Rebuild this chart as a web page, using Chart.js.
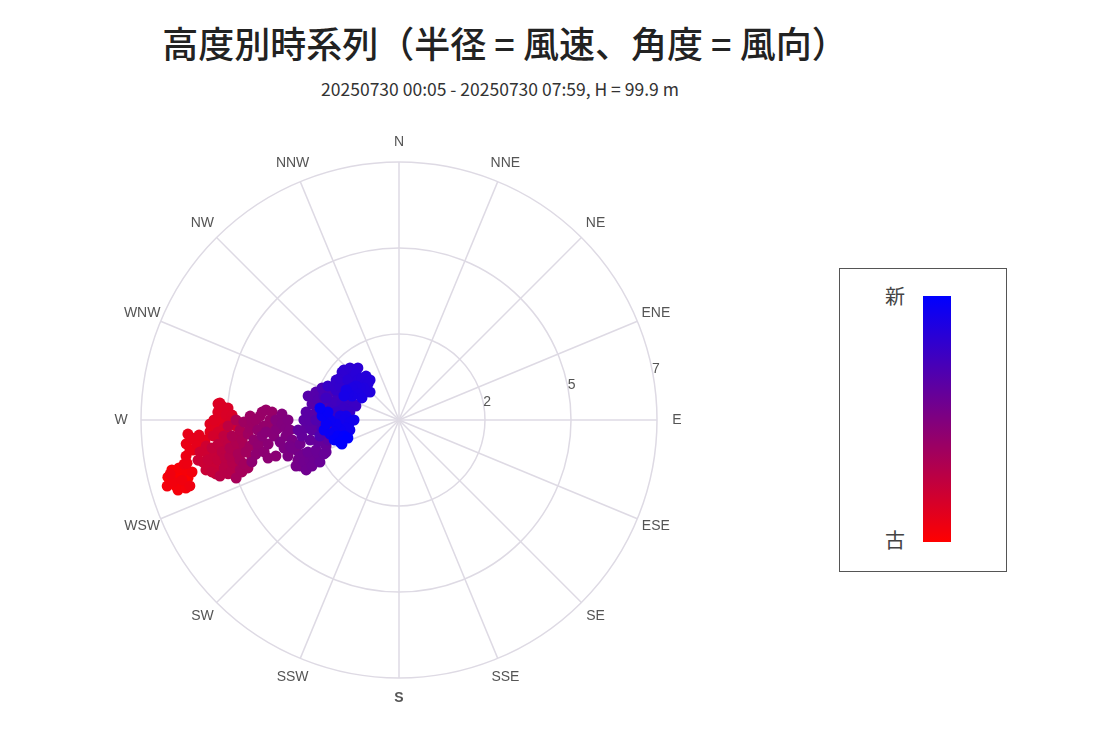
<!DOCTYPE html>
<html lang="ja">
<head>
<meta charset="utf-8">
<title>高度別時系列</title>
<script src="https://cdn.jsdelivr.net/npm/chart.js@4.4.1/dist/chart.umd.min.js"></script>
<style>
  html, body { margin: 0; padding: 0; background: #fff; }
  #page { position: relative; width: 1112px; height: 746px; overflow: hidden;
          font-family: "Noto Sans CJK JP", "Noto Sans", sans-serif; color: #222; }
  #title { position: absolute; left: 0; top: 24px; width: 1010px; text-align: center;
           font-size: 36px; line-height: 36px; font-weight: 500; }
  #subtitle { position: absolute; left: 0; top: 80px; width: 1000px; text-align: center;
              font-size: 17.5px; line-height: 17px; color: #333; }
  #polar { position: absolute; left: 99px; top: 120px; }
  #legendBox { position: absolute; left: 839px; top: 268px; width: 166px; height: 302px;
               border: 1px solid #555; }
  #legendBar { position: absolute; left: 83px; top: 27px; width: 28px; height: 246px;
               background: linear-gradient(to bottom, #0000ff, #ff0000); }
  .legendText { position: absolute; left: 43px; width: 24px; text-align: center;
                font-size: 20px; line-height: 20px; color: #444; }
</style>
</head>
<body>
<div id="page">
  <div id="title">高度別時系列（半径 = 風速、角度 = 風向）</div>
  <div id="subtitle">20250730 00:05 - 20250730 07:59, H = 99.9 m</div>
  <canvas id="polar" width="600" height="600"></canvas>
  <div id="legendBox">
    <div class="legendText" style="top:17px">新</div>
    <div id="legendBar"></div>
    <div class="legendText" style="top:261px">古</div>
  </div>
</div>
<script>
// 16方位
const compassLabels = ['N', 'NNE', 'NE', 'ENE', 'E', 'ESE', 'SE', 'SSE',
                       'S', 'SSW', 'SW', 'WSW', 'W', 'WNW', 'NW', 'NNW'];
const ringValues = [2.333, 4.667, 7];
const ringLabels = ['2', '5', '7'];

// 風速 (m/s)  古 -> 新
const windSpeed = [
  6.44, 6.31, 6.11, 5.94, 6.09, 6.29, 6.46, 6.31, 6.11, 5.94, 6.29, 6.07, 5.79, 6.54, 6.36, 6.11, 6.38, 5.95,
  5.95, 5.87, 5.86, 5.73, 5.81,
  5.65, 5.54, 5.74, 5.64, 5.52, 5.44, 5.29, 5.14, 5.13, 4.97, 4.83, 5.02, 4.92, 4.93, 4.88, 4.82, 4.65, 4.70,
  4.53, 4.59, 4.75, 4.92, 5.06, 4.89, 4.66, 4.43, 5.05, 5.28, 5.47, 5.27, 5.56, 5.44, 5.24,
  5.41, 5.16, 5.29, 5.11, 5.27, 5.18, 5.03, 5.13, 4.91, 4.95, 4.77, 4.73, 4.64, 4.68, 4.88, 4.83, 4.84, 4.92,
  5.09, 4.86, 4.73, 4.62, 4.67, 4.69, 4.55, 4.65, 4.43, 4.46, 4.39, 4.42, 4.55, 4.32, 4.29, 4.26, 4.46, 4.45,
  4.52, 4.69, 4.49, 4.30, 4.37, 4.12, 4.24, 4.10, 4.11, 4.21,
  4.05, 4.04, 3.99, 3.88, 3.77, 3.72, 3.62, 3.45, 3.50, 3.50, 3.67, 3.84, 3.97, 3.81, 3.89, 3.99, 4.15, 3.76,
  3.70, 3.48, 3.61, 3.74, 3.62, 3.42, 3.35, 3.29, 3.34, 3.18, 3.18, 3.07, 3.01, 2.97, 3.10, 3.28, 3.21, 3.17,
  2.95, 2.91, 2.95,
  3.04, 3.00, 3.06, 2.96, 2.86, 2.76, 2.74, 2.82, 2.86, 2.65, 2.67, 2.53, 2.62, 2.38, 2.39, 2.43, 2.23, 2.16,
  2.10, 2.28, 2.47, 2.67, 2.75, 2.53, 2.27, 2.12, 2.00,
  2.38, 2.42, 2.58, 2.41, 2.53, 2.31, 2.40, 2.38, 2.55, 2.38, 2.27, 2.26, 2.16, 2.20, 2.25, 2.10, 2.19, 1.88,
  1.98, 2.02, 2.14, 2.26, 2.02, 1.88, 1.83, 1.74, 1.65, 1.74, 1.73,
  1.76, 1.82, 1.89, 2.07, 1.61, 1.47, 1.30, 1.23, 1.53, 1.57, 1.35, 1.72,
  2.14, 1.89, 1.99, 2.02, 1.80, 1.85, 1.96, 2.02, 1.90, 2.02, 1.94, 1.83, 1.80, 1.71, 1.76, 1.71, 1.55, 1.52,
  1.49, 1.34, 1.36, 1.29, 1.09, 1.17, 1.29, 1.37, 1.49, 1.54, 1.32, 1.17, 1.43, 1.55, 1.65, 1.63,
  1.60, 1.44, 1.49, 1.22, 1.33, 1.36, 1.45, 1.67, 1.62, 1.71, 1.87, 1.79, 1.91, 2.05, 1.98, 2.09, 1.94, 2.17,
  1.84, 1.71, 1.68, 1.55, 1.71, 1.47
];

// 風向 (deg)
const windDir = [
  254.8, 253.5, 253.5, 254.6, 256.1, 256.0, 256.1, 257.6, 257.7, 256.8, 252.4, 252.3, 255.9, 254.1, 254.7, 254.5, 256.7, 252.5,
  258.4, 258.5, 260.4, 261.8, 263.6,
  261.7, 263.8, 266.2, 265.0, 262.9, 265.7, 264.1, 266.4, 268.8, 267.8, 270.0, 270.0, 272.5, 275.1, 275.4, 274.5, 274.0, 271.7,
  271.7, 269.3, 267.4, 266.2, 265.1, 263.6, 265.3, 267.9, 261.3, 262.3, 260.9, 259.6, 258.7, 257.9, 256.5,
  255.5, 255.4, 258.2, 259.0, 254.5, 253.6, 257.5, 261.5, 261.7, 262.4, 264.8, 263.4, 268.0, 262.0, 259.8, 257.7, 255.7, 254.7,
  252.6, 252.5, 253.3, 254.3, 255.9, 258.0, 259.7, 260.6, 260.1, 262.3, 264.3, 270.0, 264.5, 266.4, 262.7, 260.5, 258.1, 255.9,
  252.5, 250.4, 251.7, 252.4, 254.2, 255.5, 258.2, 260.1, 264.7, 269.3,
  266.9, 271.5, 269.2, 270.0, 271.6, 273.3, 274.3, 273.6, 270.0, 267.3, 267.5, 265.9, 262.1, 261.8, 259.6, 256.6, 254.1, 256.7,
  253.8, 253.7, 259.6, 263.3, 264.8, 262.7, 265.4, 266.2, 270.0, 272.9, 268.0, 266.0, 270.0, 264.8, 261.9, 259.5, 256.3, 252.0,
  259.4, 253.8, 248.4,
  256.6, 255.3, 245.9, 245.1, 250.0, 256.4, 250.3, 246.1, 241.7, 245.8, 242.1, 245.9, 250.6, 247.2, 250.1, 242.0, 245.6, 246.3,
  250.4, 254.8, 257.3, 260.6, 264.3, 265.1, 263.1, 259.7, 254.3,
  263.4, 266.1, 270.0, 270.0, 274.9, 274.0, 280.4, 284.5, 284.8, 288.6, 289.5, 283.9, 277.2, 270.0, 270.0, 264.1, 258.6, 265.0,
  271.6, 280.9, 287.7, 292.6, 292.1, 285.0, 275.1, 259.2, 270.0, 280.8, 292.1,
  289.8, 283.8, 278.2, 286.8, 285.7, 289.4, 289.6, 288.0, 282.3, 280.0, 279.3, 277.2,
  295.6, 295.5, 297.6, 302.4, 300.8, 300.0, 305.4, 310.1, 311.0, 312.3, 316.7, 318.0, 321.7, 311.8, 308.1, 316.9, 314.3, 318.6,
  323.1, 324.1, 315.8, 319.3, 314.0, 310.3, 312.4, 309.4, 308.3, 304.2, 302.4, 300.7, 297.1, 297.0, 299.5, 293.6,
  273.9, 274.3, 270.0, 270.0, 267.7, 258.5, 261.4, 262.5, 260.4, 266.4, 270.0, 259.5, 258.5, 262.4, 266.9, 273.0, 276.4, 278.6,
  252.9, 255.3, 247.2, 253.8, 249.5, 250.6
];

const gridColor = '#dedae4';

// old = red, new = blue
const pointColors = windSpeed.map((_, i) => {
  const t = i / (windSpeed.length - 1);
  return 'rgb(' + Math.round(255 * (1 - t)) + ',0,' + Math.round(255 * t) + ')';
});

// put each point at its wind direction on the radial scale, and draw the labels
const polarPlacement = {
  id: 'polarPlacement',
  afterDatasetsUpdate(chart) {
    const r = chart.scales.r;
    chart.getDatasetMeta(0).data.forEach((pt, i) => {
      const p = r.getPointPositionForValue(windDir[i] / 22.5, windSpeed[i]);
      pt.x = p.x;
      pt.y = p.y;
    });
  },
  afterDraw(chart) {
    const r = chart.scales.r;
    const ctx = chart.ctx;
    ctx.save();
    ctx.fillStyle = '#555';
    ctx.textAlign = 'center';
    ctx.textBaseline = 'middle';
    compassLabels.forEach((lab, i) => {
      const p = r.getPointPosition(i, r.drawingArea + 20);
      ctx.font = (lab === 'S' ? 'bold ' : '') + '14px "Liberation Sans", Arial, sans-serif';
      ctx.fillText(lab, p.x, p.y);
    });
    ctx.font = '14px "Liberation Sans", Arial, sans-serif';
    ctx.textAlign = 'left';
    ringValues.forEach((v, i) => {
      const p = r.getPointPositionForValue(3.5, v);
      ctx.fillText(ringLabels[i], p.x, p.y - 1);
    });
    ctx.restore();
  }
};

const ctx = document.getElementById('polar').getContext('2d');

new Chart(ctx, {
  type: 'radar',
  data: {
    labels: compassLabels,
    datasets: [{
      data: windSpeed,
      showLine: false,
      fill: false,
      borderWidth: 0,
      pointRadius: 5.5,
      pointBorderWidth: 0,
      pointBackgroundColor: pointColors,
      pointBorderColor: pointColors
    }]
  },
  options: {
    responsive: false,
    animation: false,
    events: [],
    layout: { padding: 42 },
    plugins: {
      legend: { display: false },
      tooltip: { enabled: false }
    },
    scales: {
      r: {
        min: 0,
        max: 7,
        afterBuildTicks(scale) {
          scale.ticks = [0].concat(ringValues).map(v => ({ value: v }));
        },
        ticks: { display: false },
        pointLabels: { display: false },
        grid: { circular: true, color: gridColor, lineWidth: 1.5 },
        angleLines: { color: gridColor, lineWidth: 1.5 }
      }
    }
  },
  plugins: [polarPlacement]
});
</script>
</body>
</html>
